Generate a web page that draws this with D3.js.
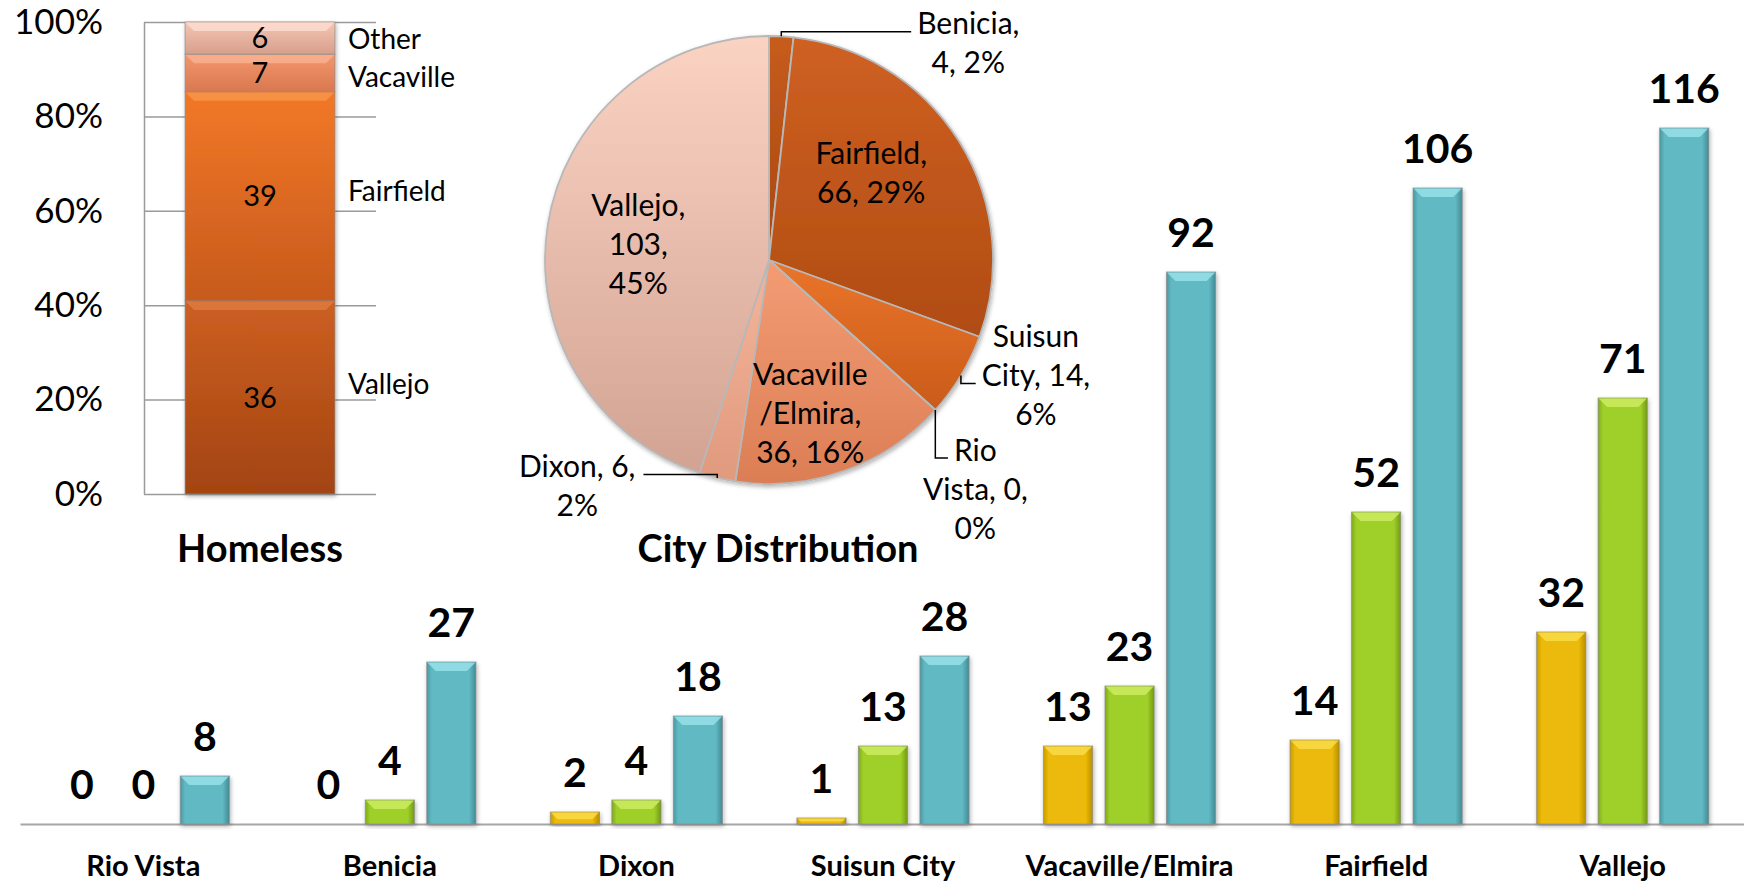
<!DOCTYPE html>
<html>
<head>
<meta charset="utf-8">
<script src="https://cdn.jsdelivr.net/npm/d3@7"></script>
<style>
  body { margin: 0; background: #fff; }
  svg { display: block; }
</style>
</head>
<body>
<div id="chart"></div>
<script>
// ---- data ----
var cities = ["Rio Vista", "Benicia", "Dixon", "Suisun City", "Vacaville/Elmira", "Fairfield", "Vallejo"];
var seriesKeys = ["gold", "green", "teal"];
var goldValues = [0, 0, 2, 1, 13, 14, 32];
var greenValues = [0, 4, 4, 13, 23, 52, 71];
var tealValues = [8, 27, 18, 28, 92, 106, 116];

var homelessCities = ["Vallejo", "Fairfield", "Vacaville", "Other"];
var homelessValues = [36, 39, 7, 6];
var homelessTicks = [0, 0.2, 0.4, 0.6, 0.8, 1];

var pieCities = ["Benicia", "Fairfield", "Suisun City", "Rio Vista", "Vacaville/Elmira", "Dixon", "Vallejo"];
var pieValues = [4, 66, 14, 0, 36, 6, 103];
var piePercents = ["2%", "29%", "6%", "0%", "16%", "2%", "45%"];

// ---- setup ----
var W = 1744, H = 882;
var svg = d3.select("#chart").append("svg")
    .attr("width", W)
    .attr("height", H)
    .style("font-family", "Lato, 'Open Sans', sans-serif");

var defs = svg.append("defs");

var shadow = defs.append("filter").attr("id", "shadow")
    .attr("x", "-20%").attr("y", "-20%").attr("width", "140%").attr("height", "140%");
shadow.append("feDropShadow")
    .attr("dx", 1).attr("dy", 2).attr("stdDeviation", 2)
    .attr("flood-color", "#000").attr("flood-opacity", 0.3);

function hGrad(id, dark, main, darker) {
    var g = defs.append("linearGradient").attr("id", id)
        .attr("x1", 0).attr("x2", 1).attr("y1", 0).attr("y2", 0);
    g.append("stop").attr("offset", "0%").attr("stop-color", dark);
    g.append("stop").attr("offset", "10%").attr("stop-color", main);
    g.append("stop").attr("offset", "86%").attr("stop-color", main);
    g.append("stop").attr("offset", "100%").attr("stop-color", darker);
}
function vGrad(id, top, bottom) {
    var g = defs.append("linearGradient").attr("id", id)
        .attr("x1", 0).attr("x2", 0).attr("y1", 0).attr("y2", 1);
    g.append("stop").attr("offset", "0%").attr("stop-color", top);
    g.append("stop").attr("offset", "100%").attr("stop-color", bottom);
}

var barColors = {
    gold:  {dark: "#c89c00", main: "#ebba07", darker: "#b88e00", bevel: "#f9dc45"},
    green: {dark: "#80aa18", main: "#9fd02a", darker: "#739a12", bevel: "#ccec60"},
    teal:  {dark: "#4a98a2", main: "#61b9c3", darker: "#438a94", bevel: "#97e0ea"}
};
seriesKeys.forEach(function(k) {
    var c = barColors[k];
    hGrad("bar-" + k, c.dark, c.main, c.darker);
});

// bevelled bar: body + lighter top face
function bevelBar(g, x, y, w, h, fill, bevel) {
    var b = Math.min(9, h * 0.6);
    g.append("rect")
        .attr("x", x).attr("y", y).attr("width", w).attr("height", h)
        .attr("fill", fill)
        .attr("stroke", "#8c8c8c").attr("stroke-opacity", 0.7).attr("stroke-width", 1);
    g.append("polygon")
        .attr("points", [[x + 0.5, y + 0.5], [x + w - 0.5, y + 0.5], [x + w - b, y + b], [x + b, y + b]].join(" "))
        .attr("fill", bevel).attr("opacity", 0.85);
}

// ---- bottom grouped bar chart ----
var base = 824;
var x0 = d3.scaleBand().domain(cities).range([20, 1746]);
var x1 = d3.scaleBand().domain(seriesKeys).range([-92.25, 92.25]).paddingInner(0.2).paddingOuter(0.1);
var y = d3.scaleLinear().domain([0, 120]).range([base, 104]);

var rows = cities.map(function(c, i) {
    return {city: c, values: [
        {key: "gold", v: goldValues[i]},
        {key: "green", v: greenValues[i]},
        {key: "teal", v: tealValues[i]}
    ]};
});

var xAxis = svg.append("g")
    .attr("transform", "translate(0," + base + ")")
    .call(d3.axisBottom(x0).tickSize(0).tickSizeOuter(0).tickPadding(31));
xAxis.select(".domain").attr("stroke", "#a6a6a6").attr("stroke-width", 2);
xAxis.selectAll("text")
    .attr("font-family", "Lato, sans-serif")
    .attr("font-size", 29).attr("font-weight", "bold").attr("fill", "#000");

var groups = svg.selectAll(".city")
    .data(rows)
    .enter()
    .append("g")
    .attr("class", "city")
    .attr("transform", function(d) { return "translate(" + (x0(d.city) + x0.bandwidth() / 2) + ",0)"; });

groups.each(function(d) {
    var g = d3.select(this);
    d.values.forEach(function(s) {
        var bx = x1(s.key), bw = x1.bandwidth();
        if (s.v > 0) {
            var bg = g.append("g").attr("filter", "url(#shadow)");
            bevelBar(bg, bx, y(s.v), bw, base - y(s.v), "url(#bar-" + s.key + ")", barColors[s.key].bevel);
        }
        g.append("text")
            .attr("x", bx + bw / 2)
            .attr("y", y(s.v) - 25)
            .attr("text-anchor", "middle")
            .attr("font-size", 41).attr("font-weight", "bold")
            .text(s.v);
    });
});

// ---- top-left: Homeless 100% stacked bar ----
var hy = d3.scaleLinear().domain([0, 1]).range([494, 22]);
var hx = d3.scaleBand().domain(["Homeless"]).range([144, 376]).padding(0.215);

var hAxis = svg.append("g")
    .attr("transform", "translate(144,0)")
    .call(d3.axisLeft(hy).tickValues(homelessTicks).tickFormat(d3.format(".0%"))
        .tickSize(-232).tickSizeOuter(0).tickPadding(41));
hAxis.select(".domain").attr("stroke", "#9a9a9a").attr("stroke-width", 1.5);
hAxis.selectAll(".tick line").attr("stroke", "#9a9a9a").attr("stroke-width", 1.5);
hAxis.selectAll(".tick text")
    .attr("font-family", "Lato, sans-serif")
    .attr("font-size", 35).attr("fill", "#000");

var homelessRow = {};
homelessCities.forEach(function(c, i) { homelessRow[c] = homelessValues[i]; });
var stacked = d3.stack().keys(homelessCities).offset(d3.stackOffsetExpand)([homelessRow]);

var segColors = {
    "Vallejo":   ["#cc5f22", "#a34411", "#de7a3e"],
    "Fairfield": ["#f27828", "#c75a1c", "#f99448"],
    "Vacaville": ["#f4966e", "#d87850", "#f9b08e"],
    "Other":     ["#f5c6b4", "#d69f8b", "#fbdcd0"]
};
homelessCities.forEach(function(c, i) { vGrad("seg-" + i, segColors[c][0], segColors[c][1]); });

var segG = svg.append("g").attr("filter", "url(#shadow)");
stacked.forEach(function(layer, i) {
    var d = layer[0];
    bevelBar(segG, hx("Homeless"), hy(d[1]), hx.bandwidth(), hy(d[0]) - hy(d[1]),
        "url(#seg-" + i + ")", segColors[layer.key][2]);
});

// series names sit beside the bar, nudged a little from the segment middle
var seriesNameShift = {"Vallejo": -13, "Fairfield": -5, "Vacaville": 4, "Other": 1};
stacked.forEach(function(layer) {
    var d = layer[0];
    var mid = (hy(d[0]) + hy(d[1])) / 2;
    svg.append("text")
        .attr("x", hx("Homeless") + hx.bandwidth() / 2).attr("y", mid)
        .attr("dy", "0.35em").attr("text-anchor", "middle")
        .attr("font-size", 29)
        .text(homelessRow[layer.key]);
    svg.append("text")
        .attr("x", 348).attr("y", mid + seriesNameShift[layer.key])
        .attr("dy", "0.35em")
        .attr("font-size", 28)
        .text(layer.key);
});

svg.append("text")
    .attr("x", hx("Homeless") + hx.bandwidth() / 2).attr("y", 562)
    .attr("text-anchor", "middle")
    .attr("font-size", 38).attr("font-weight", "bold")
    .text("Homeless");

// ---- top-middle: City Distribution pie ----
var cx = 769, cy = 260, r = 224;
var pie = d3.pie().sort(null).value(function(d) { return d.value; });
var pieData = pie(pieCities.map(function(c, i) {
    return {city: c, value: pieValues[i], pct: piePercents[i]};
}));
var arc = d3.arc().innerRadius(0).outerRadius(r);

var sliceColors = {
    "Benicia":          ["#c65c1f", "#a8470f"],
    "Fairfield":        ["#cf6022", "#b04c13"],
    "Suisun City":      ["#ea752b", "#c95b19"],
    "Rio Vista":        ["#e06f2a", "#c05a1c"],
    "Vacaville/Elmira": ["#f39c74", "#dc7e55"],
    "Dixon":            ["#f5b59a", "#e09a7e"],
    "Vallejo":          ["#fbd3c3", "#d2a393"]
};
pieCities.forEach(function(c, i) { vGrad("slice-" + i, sliceColors[c][0], sliceColors[c][1]); });

var pieG = svg.append("g")
    .attr("transform", "translate(" + cx + "," + cy + ")")
    .attr("filter", "url(#shadow)");
pieG.selectAll("path")
    .data(pieData)
    .enter()
    .append("path")
    .attr("d", arc)
    .attr("fill", function(d, i) { return "url(#slice-" + i + ")"; })
    .attr("stroke", "#b8b8b8")
    .attr("stroke-width", 1.8)
    .attr("stroke-linejoin", "round");

// label layout: inside labels sit near the centroid, the others beside the rim
var labelArc = d3.arc().innerRadius(r * 0.6).outerRadius(r * 0.6);
var rimArc = d3.arc().innerRadius(r).outerRadius(r);
var pieLabelLayout = {
    "Benicia":          {inside: false, dx: 187,  dy: 7,  wrap: 8,  leaderLine: 0},
    "Fairfield":        {inside: true,  dx: -12,  dy: -16, wrap: 10},
    "Suisun City":      {inside: false, dx: 75,   dy: 0,  wrap: 9,  leaderLine: 1},
    "Rio Vista":        {inside: false, dx: 40,   dy: 79, wrap: 9,  leaderLine: 0},
    "Vacaville/Elmira": {inside: true,  dx: -4,   dy: 27, wrap: 9},
    "Dixon":            {inside: false, dx: -140, dy: 8,  wrap: 9,  leaderLine: 0},
    "Vallejo":          {inside: true,  dx: 2,    dy: 6,  wrap: 7}
};

function wrapLabel(text, limit) {
    // break after spaces and before "/"
    var tokens = text.replace(/\//g, " \u0001/").split(" ");
    var lines = [], cur = "";
    tokens.forEach(function(t) {
        var glue = t.charAt(0) === "\u0001";
        var word = glue ? t.slice(1) : t;
        var next = cur === "" ? word : cur + (glue ? "" : " ") + word;
        if (cur !== "" && next.length > limit) {
            lines.push(cur);
            cur = word;
        } else {
            cur = next;
        }
    });
    if (cur !== "") lines.push(cur);
    return lines;
}

var lineH = 39;
pieData.forEach(function(d) {
    var lay = pieLabelLayout[d.data.city];
    var p = lay.inside ? labelArc.centroid(d) : rimArc.centroid(d);
    var ax = cx + p[0], ay = cy + p[1];
    var bx = ax + lay.dx, by = ay + lay.dy;
    var lines = wrapLabel(d.data.city + ", " + d.data.value + ", " + d.data.pct, lay.wrap);
    var texts = lines.map(function(line, i) {
        return svg.append("text")
            .attr("x", bx)
            .attr("y", by + (i - (lines.length - 1) / 2) * lineH)
            .attr("dy", "0.35em")
            .attr("text-anchor", "middle")
            .attr("font-size", 30)
            .text(line);
    });
    if (!lay.inside) {
        var li = lay.leaderLine;
        var half = texts[li].node().getComputedTextLength() / 2;
        var lineY = by + (li - (lines.length - 1) / 2) * lineH + 8;
        var ex = bx > ax ? bx - half - 6 : bx + half + 8;
        svg.append("path")
            .attr("d", "M" + ax + "," + ay + "L" + ax + "," + lineY + "L" + ex + "," + lineY)
            .attr("fill", "none")
            .attr("stroke", "#000")
            .attr("stroke-width", 1.5);
    }
});

svg.append("text")
    .attr("x", 778).attr("y", 562)
    .attr("text-anchor", "middle")
    .attr("font-size", 38).attr("font-weight", "bold")
    .text("City Distribution");
</script>
</body>
</html>
